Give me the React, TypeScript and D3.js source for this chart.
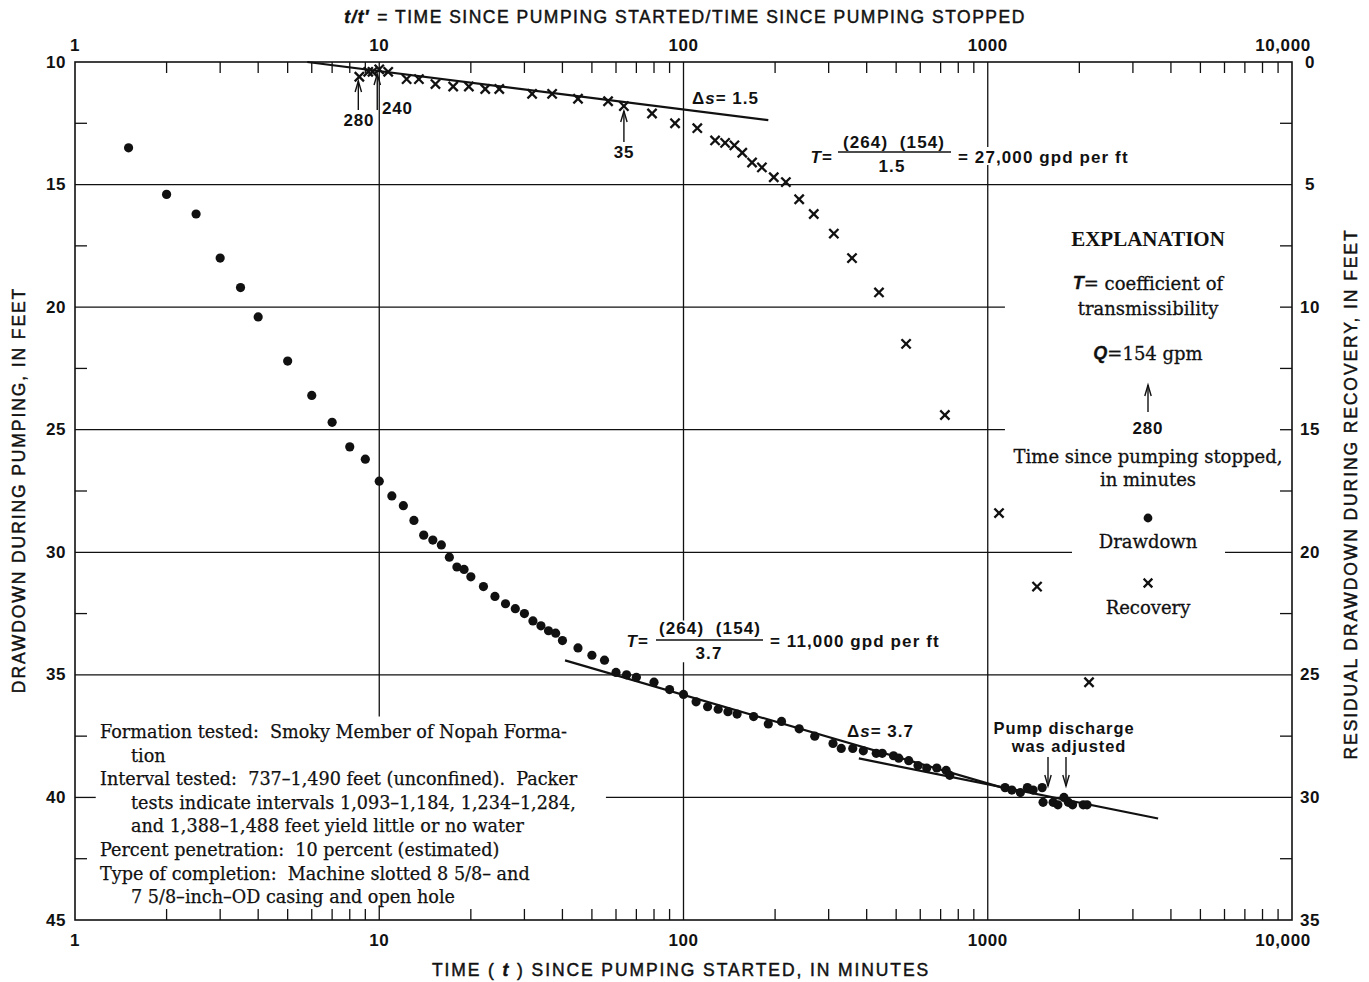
import React from 'react';
import * as d3 from 'd3';

const W = 1369;
const H = 982;

// ---- data ----
const drawdownTime = [1.5, 2, 2.5, 3, 3.5, 4, 5, 6, 7, 8, 9, 10, 11, 12, 13, 14, 15, 16, 17, 18, 19, 20, 22, 24, 26, 28, 30, 32, 34, 36, 38, 40, 45, 50, 55, 60, 65, 70, 80, 90, 100, 110, 120, 130, 140, 150, 170, 190, 210, 240, 270, 310, 330, 360, 390, 430, 450, 490, 510, 550, 590, 630, 680, 730, 750, 1140, 1200, 1280, 1350, 1410, 1510, 1520, 1640, 1700, 1780, 1840, 1900, 2060, 2120];
const drawdownFeet = [13.5, 15.4, 16.2, 18.0, 19.2, 20.4, 22.2, 23.6, 24.7, 25.7, 26.2, 27.1, 27.7, 28.1, 28.7, 29.3, 29.5, 29.7, 30.2, 30.6, 30.7, 31.0, 31.4, 31.8, 32.1, 32.3, 32.5, 32.8, 33.0, 33.2, 33.3, 33.6, 33.9, 34.2, 34.4, 34.9, 35.0, 35.1, 35.3, 35.6, 35.8, 36.1, 36.3, 36.4, 36.5, 36.6, 36.7, 37.0, 36.9, 37.2, 37.5, 37.8, 38.0, 38.0, 38.1, 38.2, 38.2, 38.3, 38.4, 38.5, 38.7, 38.8, 38.8, 38.9, 39.1, 39.6, 39.7, 39.8, 39.6, 39.7, 39.6, 40.2, 40.2, 40.3, 40.0, 40.2, 40.3, 40.3, 40.3];

const recoveryRatio = [8.6, 9.2, 9.5, 10, 10.7, 12.3, 13.5, 15.3, 17.5, 19.7, 22.3, 24.8, 31.8, 37, 45, 56.5, 63.7, 78.8, 93.8, 111, 127, 137, 147, 156, 168, 181, 198, 217, 240, 268, 312, 358, 439, 539, 723, 1089, 1452, 2152];
const recoveryResidual = [0.6, 0.4, 0.4, 0.3, 0.4, 0.7, 0.7, 0.9, 1.0, 1.0, 1.1, 1.1, 1.3, 1.3, 1.5, 1.6, 1.8, 2.1, 2.5, 2.7, 3.2, 3.3, 3.4, 3.7, 4.1, 4.3, 4.7, 4.9, 5.6, 6.2, 7.0, 8.0, 9.4, 11.5, 14.4, 18.4, 21.4, 25.3];

const fitRecoveryRatio = [5.8, 190];
const fitRecoveryResidual = [0, 2.37];
const fitPumpTimeA = [40.8, 1183];
const fitPumpFeetA = [34.41, 39.69];
const fitPumpTimeB = [377, 3630];
const fitPumpFeetB = [38.41, 40.86];

const xTickValues = [1, 10, 100, 1000, 10000];
const xTickLabels = ['1', '10', '100', '1000', '10,000'];
const leftTickValues = [10, 15, 20, 25, 30, 35, 40, 45];
const rightTickValues = [0, 5, 10, 15, 20, 25, 30, 35];

const formationLines = [
  { text: 'Formation tested:  Smoky Member of Nopah Forma-', indent: false },
  { text: 'tion', indent: true },
  { text: 'Interval tested:  737\u20131,490 feet (unconfined).  Packer', indent: false },
  { text: 'tests indicate intervals 1,093\u20131,184, 1,234\u20131,284,', indent: true },
  { text: 'and 1,388\u20131,488 feet yield little or no water', indent: true },
  { text: 'Percent penetration:  10 percent (estimated)', indent: false },
  { text: 'Type of completion:  Machine slotted 8 5/8\u2013 and', indent: false },
  { text: '7 5/8\u2013inch\u2013OD casing and open hole', indent: true },
];

const SANS = "'Liberation Sans', Arial, Helvetica, sans-serif";
const SERIF = "'DejaVu Serif', 'Liberation Serif', serif";
const TSERIF = "'Liberation Serif', 'Times New Roman', serif";
const INK = '#111';
const PRE = { whiteSpace: 'pre' as const };

const PL = 75, PR = 1292, PT = 62, PB = 920;

const x = d3.scaleLog().domain([1, 10000]).range([PL, PR]);
const y = d3.scaleLinear().domain([10, 45]).range([PT, PB]);
const yr = d3.scaleLinear().domain([0, 35]).range([PT, PB]);

function Cross({ cx, cy, s = 3.8 }: { cx: number; cy: number; s?: number }) {
  return (
    <g stroke={INK} strokeWidth={2.3} strokeLinecap="square">
      <line x1={cx - s} y1={cy - s} x2={cx + s} y2={cy + s} />
      <line x1={cx - s} y1={cy + s} x2={cx + s} y2={cy - s} />
    </g>
  );
}

function Arrow({ ax, y1, y2 }: { ax: number; y1: number; y2: number }) {
  const dir = y2 < y1 ? 1 : -1;
  return (
    <g stroke={INK} strokeWidth={1.4} fill="none">
      <line x1={ax} y1={y1} x2={ax} y2={y2} />
      <path d={`M${ax - 3.2},${y2 + dir * 11} L${ax},${y2} L${ax + 3.2},${y2 + dir * 11}`} />
    </g>
  );
}

export default function App() {
  const line = d3.line<[number, number]>().x(d => d[0]).y(d => d[1]);

  const hGrid: { v: number; segs: [number, number][] }[] = [
    { v: 15, segs: [[1, 10000]] },
    { v: 20, segs: [[1, 1139]] },
    { v: 25, segs: [[1, 1139]] },
    { v: 30, segs: [[1, 1892], [6024, 10000]] },
    { v: 35, segs: [[1, 10000]] },
    { v: 40, segs: [[1, 1.17], [55.6, 10000]] },
  ];
  const vGrid: { v: number; segs: [number, number][] }[] = [
    { v: 10, segs: [[10, 36.7], [44.4, 45]] },
    { v: 100, segs: [[10, 32.78], [34.49, 45]] },
    { v: 1000, segs: [[10, 13.47], [14.2, 45]] },
  ];

  const minorX: number[] = [];
  [1, 10, 100, 1000].forEach(d => {
    for (let k = 2; k <= 9; k++) minorX.push(k * d);
  });
  const minorY = [12.5, 17.5, 22.5, 27.5, 32.5, 37.5, 42.5];
  const shortRight = [20, 25];

  const lx = 1148;
  const titleProps = { fontSize: 17.5, stroke: INK, strokeWidth: 0.45 };

  return (
    <svg width={W} height={H} viewBox={`0 0 ${W} ${H}`} style={{ position: 'absolute', left: 0, top: 0, background: '#fff' }}
      fontFamily={SANS}>
      <rect x={0} y={0} width={W} height={H} fill="#fff" />

      <rect x={PL} y={PT} width={PR - PL} height={PB - PT} fill="none" stroke={INK} strokeWidth={1.6} />

      <g stroke={INK} strokeWidth={1.3}>
        {hGrid.map(g => g.segs.map((s, i) => (
          <line key={`h${g.v}-${i}`} x1={x(s[0])} x2={x(s[1])} y1={y(g.v)} y2={y(g.v)} />
        )))}
        {vGrid.map(g => g.segs.map((s, i) => (
          <line key={`v${g.v}-${i}`} x1={x(g.v)} x2={x(g.v)} y1={y(s[0])} y2={y(s[1])} />
        )))}
        {minorX.filter(v => ![10, 100, 1000].includes(v)).map(v => (
          <g key={`mx${v}`}>
            <line x1={x(v)} x2={x(v)} y1={PT} y2={PT + 11} />
            <line x1={x(v)} x2={x(v)} y1={PB} y2={PB - 11} />
          </g>
        ))}
        {minorY.map(v => (
          <g key={`my${v}`}>
            <line x1={PL} x2={PL + 12} y1={y(v)} y2={y(v)} />
            <line x1={PR} x2={PR - 12} y1={y(v)} y2={y(v)} />
          </g>
        ))}
        {shortRight.map(v => (
          <line key={`sr${v}`} x1={PR} x2={PR - 12} y1={y(v)} y2={y(v)} />
        ))}
      </g>

      <g fontWeight="bold" fontSize={17} fill={INK} letterSpacing={0.6}>
        {leftTickValues.map(v => (
          <text key={`l${v}`} x={PL - 9} y={y(v)} textAnchor="end" dominantBaseline="central">{v}</text>
        ))}
        {rightTickValues.map(v => (
          <text key={`r${v}`} x={PR + 18} y={yr(v)} textAnchor="middle" dominantBaseline="central">{v}</text>
        ))}
        {xTickValues.map((v, i) => (
          <text key={`t${v}`} x={v === 10000 ? x(v) - 9 : x(v)} y={45} textAnchor="middle" dominantBaseline="central">{xTickLabels[i]}</text>
        ))}
        {xTickValues.map((v, i) => (
          <text key={`b${v}`} x={v === 10000 ? x(v) - 9 : x(v)} y={940} textAnchor="middle" dominantBaseline="central">{xTickLabels[i]}</text>
        ))}
      </g>

      <g fill={INK} {...titleProps}>
        <text x={685} y={17} textAnchor="middle" dominantBaseline="central" letterSpacing={1.5}>
          <tspan fontStyle="italic" fontWeight="bold">t/t</tspan><tspan fontWeight="bold">{'\u2032'}</tspan>{' = TIME SINCE PUMPING STARTED/TIME SINCE PUMPING STOPPED'}
        </text>
        <text x={681} y={970} textAnchor="middle" dominantBaseline="central" letterSpacing={1.9}>
          {'TIME ( '}<tspan fontStyle="italic" fontWeight="bold">t</tspan>{' ) SINCE PUMPING STARTED, IN MINUTES'}
        </text>
        <text transform={`translate(19,490) rotate(-90)`} textAnchor="middle" dominantBaseline="central" letterSpacing={1.9}>
          DRAWDOWN DURING PUMPING, IN FEET
        </text>
        <text transform={`translate(1351,494) rotate(-90)`} textAnchor="middle" dominantBaseline="central" letterSpacing={1.9}>
          RESIDUAL DRAWDOWN DURING RECOVERY, IN FEET
        </text>
      </g>

      <g stroke={INK} strokeWidth={2.2} fill="none">
        <path d={line(fitRecoveryRatio.map((t, i) => [x(t), yr(fitRecoveryResidual[i])] as [number, number])) || ''} />
        <path d={line(fitPumpTimeA.map((t, i) => [x(t), y(fitPumpFeetA[i])] as [number, number])) || ''} />
        <path d={line(fitPumpTimeB.map((t, i) => [x(t), y(fitPumpFeetB[i])] as [number, number])) || ''} />
      </g>

      <g fill={INK}>
        {drawdownTime.map((t, i) => (
          <circle key={`d${i}`} cx={x(t)} cy={y(drawdownFeet[i])} r={4.6} />
        ))}
      </g>

      {recoveryRatio.map((t, i) => (
        <Cross key={`c${i}`} cx={x(t)} cy={yr(recoveryResidual[i])} />
      ))}

      <Arrow ax={x(8.6) - 1} y1={110} y2={81} />
      <Arrow ax={x(10) - 2} y1={110} y2={74} />
      <Arrow ax={x(63.7)} y1={142} y2={111} />
      <g fontWeight="bold" fontSize={17} fill={INK} letterSpacing={0.8}>
        <text x={359} y={120} textAnchor="middle" dominantBaseline="central">280</text>
        <text x={382} y={108} textAnchor="start" dominantBaseline="central">240</text>
        <text x={624} y={152} textAnchor="middle" dominantBaseline="central">35</text>
      </g>

      <g fontWeight="bold" fontSize={17} fill={INK} letterSpacing={1}>
        <text x={692} y={98} dominantBaseline="central" style={PRE}>{'\u0394'}<tspan fontStyle="italic">s</tspan>{'= 1.5'}</text>
        <text x={847} y={731} dominantBaseline="central" style={PRE}>{'\u0394'}<tspan fontStyle="italic">s</tspan>{'= 3.7'}</text>
      </g>

      <g fontWeight="bold" fontSize={17} fill={INK} letterSpacing={1.1}>
        <text x={833} y={157} textAnchor="end" dominantBaseline="central"><tspan fontStyle="italic">T</tspan>=</text>
        <text x={894} y={142} textAnchor="middle" dominantBaseline="central" style={PRE}>(264)  (154)</text>
        <line x1={838} x2={951} y1={152} y2={152} stroke={INK} strokeWidth={1.3} />
        <text x={892} y={166} textAnchor="middle" dominantBaseline="central">1.5</text>
        <text x={958} y={157} dominantBaseline="central">= 27,000 gpd per ft</text>

        <text x={649} y={641} textAnchor="end" dominantBaseline="central"><tspan fontStyle="italic">T</tspan>=</text>
        <text x={710} y={628} textAnchor="middle" dominantBaseline="central" style={PRE}>(264)  (154)</text>
        <line x1={656} x2={763} y1={640} y2={640} stroke={INK} strokeWidth={1.3} />
        <text x={709} y={653} textAnchor="middle" dominantBaseline="central">3.7</text>
        <text x={770} y={641} dominantBaseline="central">= 11,000 gpd per ft</text>
      </g>

      <g fontWeight="bold" fontSize={16.5} fill={INK} letterSpacing={0.9}>
        <text x={1064} y={728} textAnchor="middle" dominantBaseline="central">Pump discharge</text>
        <text x={1069} y={746} textAnchor="middle" dominantBaseline="central">was adjusted</text>
      </g>
      <Arrow ax={1048} y1={757} y2={786} />
      <Arrow ax={1066} y1={757} y2={786} />

      <g fill={INK} textAnchor="middle">
        <text x={lx} y={239} fontFamily={TSERIF} fontWeight="bold" fontSize={21} dominantBaseline="central">EXPLANATION</text>
        <g fontFamily={SERIF} fontSize={18} stroke={INK} strokeWidth={0.3}>
          <text x={lx} y={283} dominantBaseline="central">
            <tspan fontFamily={SANS} fontStyle="italic" fontWeight="bold">T</tspan>= coefficient of
          </text>
          <text x={lx} y={308} dominantBaseline="central">transmissibility</text>
          <text x={lx} y={353} dominantBaseline="central">
            <tspan fontFamily={SANS} fontStyle="italic" fontWeight="bold">Q</tspan>=154 gpm
          </text>
          <text x={lx} y={456} dominantBaseline="central">Time since pumping stopped,</text>
          <text x={lx} y={479} dominantBaseline="central">in minutes</text>
          <text x={lx} y={541} dominantBaseline="central">Drawdown</text>
          <text x={lx} y={607} dominantBaseline="central">Recovery</text>
        </g>
        <text x={lx} y={428} fontFamily={SANS} fontWeight="bold" fontSize={17} letterSpacing={0.8} dominantBaseline="central">280</text>
      </g>
      <Arrow ax={lx} y1={412} y2={385} />
      <circle cx={lx} cy={518} r={4.4} fill={INK} />
      <Cross cx={lx} cy={583} s={3.5} />

      <g fill={INK} fontFamily={SERIF} fontSize={17.6} stroke={INK} strokeWidth={0.25}>
        {formationLines.map((l, i) => (
          <text key={`f${i}`} x={l.indent ? 131 : 100} y={732 + i * 23.6} dominantBaseline="central" style={PRE}>{l.text}</text>
        ))}
      </g>
    </svg>
  );
}
